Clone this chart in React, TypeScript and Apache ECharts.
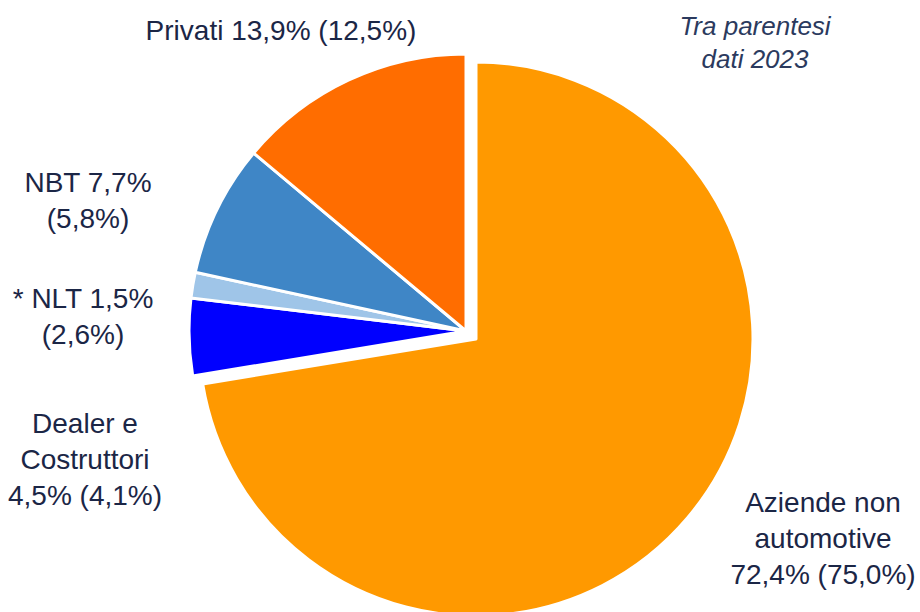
import React, { useEffect, useRef } from "react";
import * as echarts from "echarts";

const categories = ["Aziende non\nautomotive", "Dealer e\nCostruttori", "* NLT", "NBT", "Privati"];
const values2024 = [72.4, 4.5, 1.5, 7.7, 13.9];
const values2023 = [75.0, 4.1, 2.6, 5.8, 12.5];
const nameSep = ["\n", "\n", " ", " ", " "];
const valueSep = [" ", " ", "\n", "\n", " "];
const colors = ["#FF9900", "#0000FF", "#9FC5E8", "#3F86C6", "#FF6D00"];
const exploded = [true, false, false, false, false];
const labelPos = [
  [823, 538],
  [85, 459],
  [83, 316],
  [88, 200],
  [281, 30],
];
const noteLines = ["Tra parentesi", "dati 2023"];

const fmt = (v: number) => v.toFixed(1).replace(".", ",");

export default function App() {
  const ref = useRef<HTMLDivElement>(null);
  useEffect(() => {
    document.body.style.margin = "0";
    const chart = echarts.init(ref.current!, null, { renderer: "svg" });
    const font = "'Liberation Sans', Arial, sans-serif";
    const hidden = { color: "rgba(0,0,0,0)", borderWidth: 0 };
    const base = {
      type: "pie",
      radius: 277,
      startAngle: 90,
      clockwise: true,
      avoidLabelOverlap: false,
      emphasis: { disabled: true },
      labelLine: { show: false },
    };
    chart.setOption({
      animation: false,
      backgroundColor: "#ffffff",
      graphic: [
        {
          type: "text",
          x: 755,
          y: 42,
          style: {
            text: noteLines.join("\n"),
            fontFamily: font,
            fontSize: 26,
            fontStyle: "italic",
            fill: "#2B3A5E",
            lineHeight: 33,
            align: "center",
            verticalAlign: "middle",
          },
        },
      ],
      series: [
        {
          ...base,
          center: [476, 339],
          silent: true,
          label: { show: false },
          data: categories.map((c, i) => ({
            name: c,
            value: values2024[i],
            itemStyle: exploded[i]
              ? { color: colors[i], borderColor: "#ffffff", borderWidth: 3 }
              : hidden,
          })),
        },
        {
          ...base,
          center: [466, 331],
          label: {
            show: true,
            position: "center",
            fontFamily: font,
            fontSize: 28,
            lineHeight: 36,
            color: "#1B2646",
            align: "center",
          },
          labelLayout: (params: any) => {
            const p = labelPos[params.dataIndex];
            return { x: p[0], y: p[1], align: "center", verticalAlign: "middle" };
          },
          data: categories.map((c, i) => ({
            name: c,
            value: values2024[i],
            itemStyle: exploded[i]
              ? hidden
              : { color: colors[i], borderColor: "#ffffff", borderWidth: 3 },
            label: {
              formatter:
                c + nameSep[i] + fmt(values2024[i]) + "%" + valueSep[i] + "(" + fmt(values2023[i]) + "%)",
            },
          })),
        },
      ],
    });
    return () => chart.dispose();
  }, []);
  return (
    <div
      ref={ref}
      style={{ position: "fixed", left: 0, top: 0, width: 920, height: 612 }}
    />
  );
}
